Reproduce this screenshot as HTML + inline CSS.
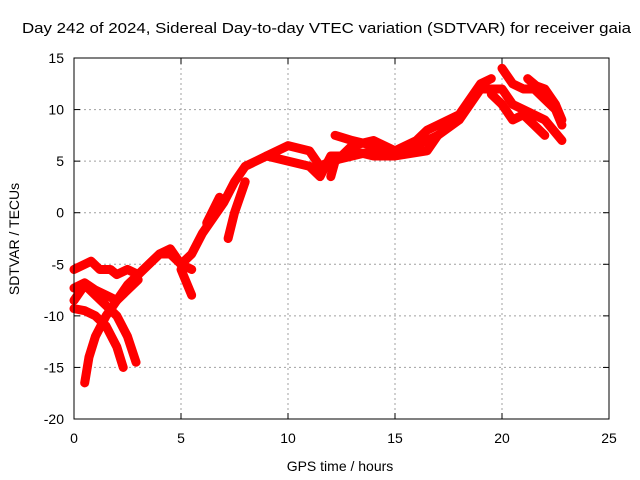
<!DOCTYPE html>
<html><head><meta charset="utf-8"><style>
body{margin:0;background:#fff;}
svg{display:block;font-family:"Liberation Sans",sans-serif;}
</style></head><body>
<svg id="chart" width="640" height="480">
<text x="22" y="33" font-size="15" textLength="609" lengthAdjust="spacingAndGlyphs">Day 242 of 2024, Sidereal Day-to-day VTEC variation (SDTVAR) for receiver gaia</text>
<text x="340" y="471" font-size="14" text-anchor="middle">GPS time / hours</text>
<text x="0" y="0" font-size="14" text-anchor="middle" transform="translate(19,239) rotate(-90)">SDTVAR / TECUs</text>
<g id="grid"></g>
<g id="ticks"></g>
<g id="marks"></g>
<rect x="74" y="58" width="535" height="361" fill="none" stroke="#000" stroke-width="1"/>
</svg>
<script>
const xTicks=[0,5,10,15,20,25];
const yTicks=[15,10,5,0,-5,-10,-15,-20];
const s1=[[0,-7.3],[0.5,-6.8],[1,-7.5],[1.5,-8],[2,-8.5],[2.5,-7],[3,-6],[3.5,-5],[4,-4],[4.5,-3.5],[5,-5],[5.5,-4],[6,-2],[7,1],[7.5,3],[8,4.5],[9,5.5],[10,6.5],[11,6],[11.5,4.5],[12,5],[13,5.5],[14,6],[15,6],[16,6.5],[17,7.5],[18,9],[19,12],[20,12],[20.5,10.5],[21,10],[22,9],[22.8,7]];
const s2=[[0,-9.3],[0.5,-9.5],[1,-10],[1.5,-11],[2,-13],[2.3,-15]];
const s3=[[0,-8.5],[0.5,-7],[1,-8],[1.5,-9],[2,-10],[2.5,-12],[2.9,-14.5]];
const s4=[[0.5,-16.5],[0.7,-14],[1,-12],[1.5,-10],[2,-8.5],[2.5,-7.5],[3,-6.5]];
const s5=[[0,-5.5],[0.5,-5],[0.8,-4.7],[1.2,-5.5],[1.7,-5.5],[2,-6],[2.5,-5.5],[3,-6],[3.5,-5],[4,-4],[4.5,-4],[5,-5],[5.5,-5.5]];
const s6=[[5,-5.5],[5.5,-8]];
const s6b=[[7.2,-2.5],[7.5,0],[8,3]];
const s6c=[[6.2,-1],[6.8,1.5]];
const s7=[[9,5.5],[10,5],[11,4.5],[11.5,3.5],[12,5.5],[12.5,5.5],[13,6.5],[14,7],[15,6],[16,6.5]];
const s8=[[12.2,7.5],[13,7],[14,6.5],[15,6],[16,7],[16.5,8],[17,8.5],[18,9.5],[19,12.5],[19.5,13]];
const s9=[[12,3.5],[12.2,5],[13,6],[14,5.5],[15,5.5],[16.5,6],[17,7.5]];
const s10=[[20,14],[20.5,12.5],[21,12],[21.5,12],[22,11],[22.5,10],[22.8,8.5]];
const s11=[[21.2,13],[21.6,12.3],[22,12],[22.5,10.5],[22.8,9]];
const s12=[[19.5,11.5],[20,10.5],[20.5,9],[21,9.5],[21.5,8.5],[22,7.5]];
const seriesList=[s1,s2,s3,s4,s5,s6,s6b,s6c,s7,s8,s9,s10,s11,s12];
const X0=74,X1=609,Y0=419,Y1=58;
function xs(v){return X0+(v-0)/(25-0)*(X1-X0);}
function ys(v){return Y0-(v+20)/(35)*(Y0-Y1);}
const NS='http://www.w3.org/2000/svg';
const grid=document.getElementById('grid'),ticks=document.getElementById('ticks'),marks=document.getElementById('marks');
function mk(tag,attrs,parent){const e=document.createElementNS(NS,tag);for(const k in attrs)e.setAttribute(k,attrs[k]);parent.appendChild(e);return e;}
xTicks.forEach(t=>{const x=xs(t);
 if(t>0&&t<25){const g=mk('line',{x1:x,x2:x,y1:Y1,y2:Y0,stroke:'#a0a0a0','stroke-dasharray':'2,3'},grid);
 
 }
 mk('line',{x1:x,x2:x,y1:Y0,y2:Y0-6,stroke:'#000'},ticks);
 mk('line',{x1:x,x2:x,y1:Y1,y2:Y1+6,stroke:'#000'},ticks);
 const l=mk('text',{x:x,y:Y0+24,'font-size':14,'text-anchor':'middle'},ticks);l.textContent=t;
 
 
});
yTicks.forEach(t=>{const y=ys(t);
 if(t>-20&&t<15){const g=mk('line',{x1:X0,x2:X1,y1:y,y2:y,stroke:'#a0a0a0','stroke-dasharray':'2,3'},grid);
 
 }
 mk('line',{x1:X0,x2:X0+6,y1:y,y2:y,stroke:'#000'},ticks);
 mk('line',{x1:X1,x2:X1-6,y1:y,y2:y,stroke:'#000'},ticks);
 const l=mk('text',{x:X0-10,y:y+5,'font-size':14,'text-anchor':'end'},ticks);l.textContent=t;
 
 
});
seriesList.forEach((s,i)=>{
 const p=mk('polyline',{points:s.map(d=>xs(d[0])+','+ys(d[1])).join(' '),fill:'none',stroke:'#ff0000','stroke-width':9,'stroke-linejoin':'round','stroke-linecap':'round'},marks);
 
 
});
</script>
</body></html>
